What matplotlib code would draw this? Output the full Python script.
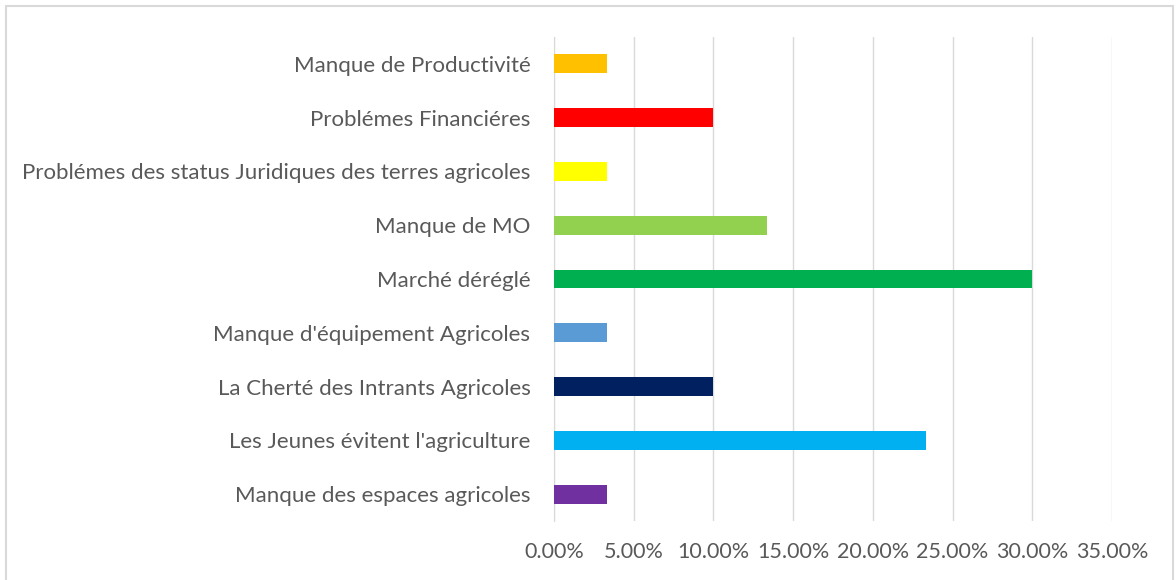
import numpy as np
import matplotlib
matplotlib.use("Agg")
from matplotlib import pyplot as plt
from matplotlib.ticker import PercentFormatter, MultipleLocator

# categories listed from bottom to top
labels = [
    "Manque des espaces agricoles",
    "Les Jeunes évitent l'agriculture",
    "La Cherté des Intrants Agricoles",
    "Manque d'équipement Agricoles",
    "Marché déréglé",
    "Manque de MO",
    "Problémes des status Juridiques des terres agricoles",
    "Problémes Financiéres",
    "Manque de Productivité",
]
values = [3.33, 23.33, 10.0, 3.33, 30.0, 13.33, 3.33, 10.0, 3.33]
colors = ["#7030A0", "#00B0F0", "#002060", "#5B9BD5", "#00B050",
          "#92D050", "#FFFF00", "#FF0000", "#FFC000"]

plt.rcParams['font.family'] = ['Lato', 'DejaVu Sans']
txt = "#595959"

fig = plt.figure(figsize=(11.76, 5.8), dpi=100)
ax = fig.add_axes([554/1176, 1 - 521/580, (1112 - 554)/1176, (521 - 37)/580])

y = np.arange(len(labels))
ax.barh(y, values, height=0.35, color=colors, zorder=3)

ax.set_xlim(0, 35)
ax.set_ylim(-0.5, len(labels) - 0.5)
ax.xaxis.set_major_locator(MultipleLocator(5))
ax.xaxis.set_major_formatter(PercentFormatter(decimals=2))
ax.set_yticks(y)
ax.set_yticklabels(labels)
ax.grid(axis='x', color='#D9D9D9', linewidth=1, zorder=0)
for s in ['top', 'right', 'bottom']:
    ax.spines[s].set_visible(False)
ax.spines['left'].set_color('#D9D9D9')
ax.tick_params(length=0, colors=txt)
ax.tick_params(axis='y', pad=17, labelsize=16)
ax.tick_params(axis='x', pad=15, labelsize=15.5)

# outer chart frame
fig.patches.append(plt.Rectangle((6/1176, -0.01), (1173 - 6)/1176, 1 - 6/580 + 0.01,
                                 transform=fig.transFigure, fill=False,
                                 edgecolor='#D9D9D9', linewidth=1.5))

fig.savefig("out.png", dpi=100)
